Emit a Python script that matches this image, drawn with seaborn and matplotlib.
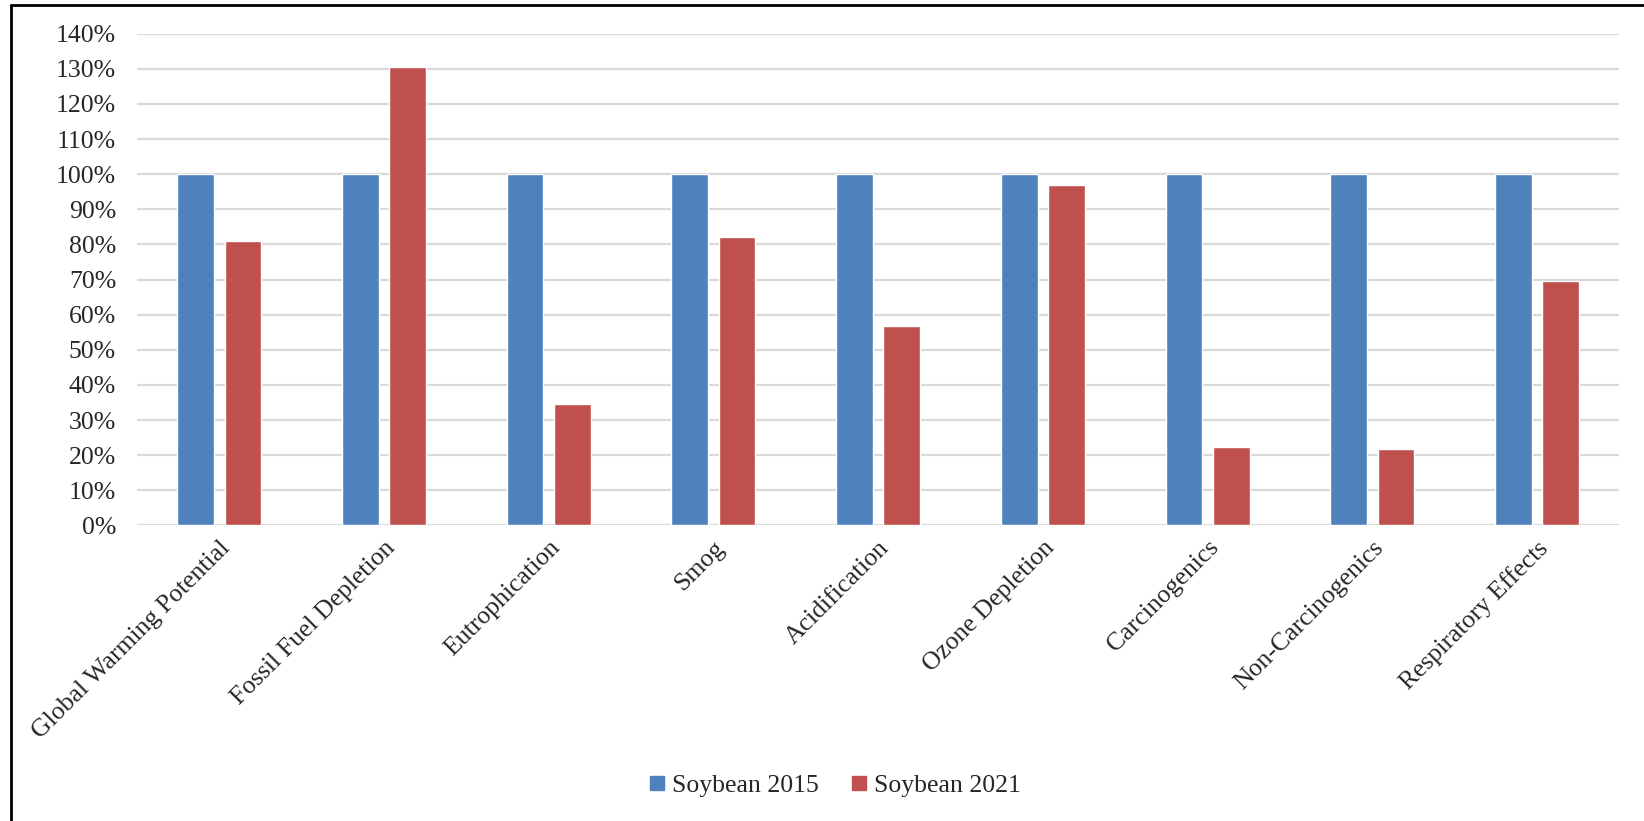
import numpy as np
import pandas as pd
import seaborn as sns
import matplotlib.pyplot as plt
from matplotlib.lines import Line2D
from matplotlib.ticker import MultipleLocator, PercentFormatter

categories = ["Global Warming Potential", "Fossil Fuel Depletion", "Eutrophication", "Smog",
              "Acidification", "Ozone Depletion", "Carcinogenics", "Non-Carcinogenics",
              "Respiratory Effects"]
soy_2015 = [1.00, 1.00, 1.00, 1.00, 1.00, 1.00, 1.00, 1.00, 1.00]
soy_2021 = [0.810, 1.304, 0.345, 0.821, 0.569, 0.970, 0.223, 0.219, 0.696]
series = ["Soybean 2015", "Soybean 2021"]
colors = ["#4F81BD", "#C0504D"]

df = pd.DataFrame({
    "Category": categories * 2,
    "Value": soy_2015 + soy_2021,
    "Series": [series[0]] * len(categories) + [series[1]] * len(categories),
})

sns.set_style("white")
plt.rcParams['font.family'] = ['Liberation Serif', 'DejaVu Serif']

fig = plt.figure(figsize=(16.44, 8.21), dpi=100)
ax = fig.add_axes([0.0833, 0.360, 0.9017, 0.599])

sns.barplot(data=df, x="Category", y="Value", hue="Series", palette=colors,
            width=0.574, gap=0.223, saturation=1, ax=ax, legend=False)

ax.set_ylim(0, 1.4)
ax.set_xlim(-0.5, len(categories) - 0.5)
ax.yaxis.set_major_locator(MultipleLocator(0.1))
ax.yaxis.set_major_formatter(PercentFormatter(1.0, decimals=0))
ax.yaxis.grid(True, color="#d9d9d9", linewidth=1.6)
ax.set_axisbelow(True)
for s in ax.spines.values():
    s.set_visible(False)
ax.set_xlabel("")
ax.set_ylabel("")
ax.tick_params(axis="y", length=0, pad=15, labelsize=18.5)
ax.tick_params(axis="x", length=0, pad=8, labelsize=18.5)
plt.setp(ax.get_xticklabels(), rotation=45, ha="right", rotation_mode="anchor")

handles = [Line2D([], [], marker="s", linestyle="", markersize=9.5, color=c) for c in colors]
fig.legend(handles, series, loc="center", bbox_to_anchor=(0.508, 0.043), ncol=2,
           frameon=False, fontsize=18.5, handlelength=0.55, handletextpad=0.3,
           columnspacing=1.3)

# chart border (left and top only, rest is cropped)
fig.add_artist(Line2D([11 / 1644, 11 / 1644], [0, 1 - 5 / 821], color="black", lw=2,
                      transform=fig.transFigure))
fig.add_artist(Line2D([11 / 1644, 1], [1 - 5 / 821, 1 - 5 / 821], color="black", lw=2,
                      transform=fig.transFigure))

fig.savefig("out.png", dpi=100)
